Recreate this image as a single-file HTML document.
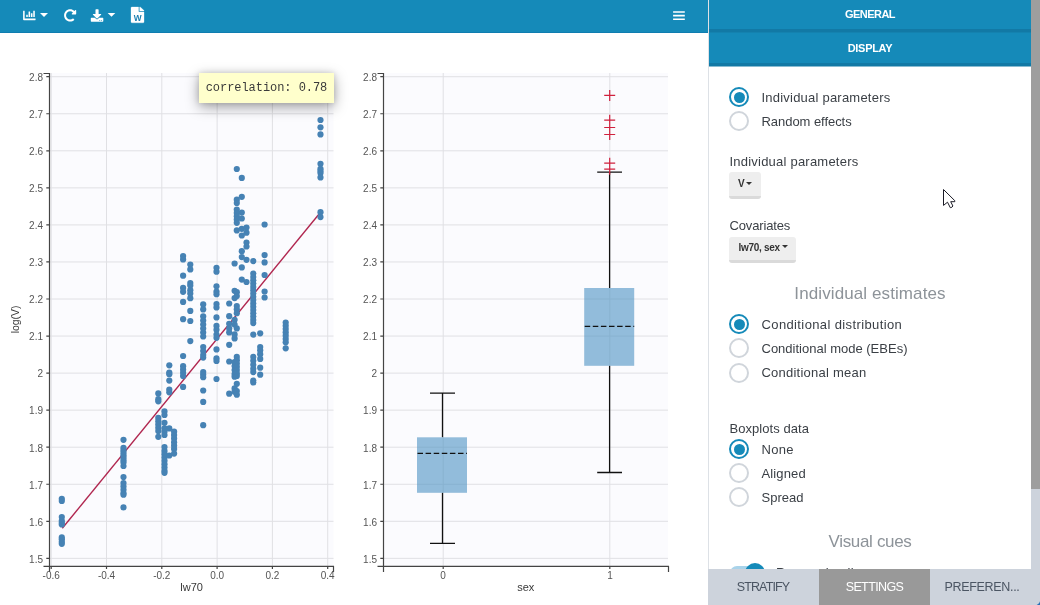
<!DOCTYPE html>
<html lang="en">
<head>
<meta charset="utf-8">
<title>Individual parameters vs covariates</title>
<style>
html,body{margin:0;padding:0;}
body{width:1040px;height:605px;overflow:hidden;background:#fff;position:relative;font-family:"Liberation Sans",sans-serif;color:#3a3f45;}
.abs{position:absolute;}
#hdr{left:0;top:0;width:708px;height:32px;background:#158ab9;border-bottom:1px solid #0f7db0;}
.plots{position:absolute;left:0;top:0;}
#tip{left:199px;top:73px;width:135px;height:30px;background:#ffffcc;box-shadow:0 4px 14px rgba(0,0,0,.36),0 0 6px rgba(0,0,0,.14);font-family:"Liberation Mono",monospace;font-size:12px;line-height:30px;color:#3a3a3a;text-align:center;white-space:nowrap;letter-spacing:-0.05px;}
#panel{left:708px;top:0;width:323px;height:569px;background:#fff;border-left:1px solid #dde1e6;box-sizing:border-box;overflow:hidden;}
.bar{left:0;width:322px;height:34px;color:#fff;font-weight:700;font-size:11px;text-align:center;line-height:29px;}
#b1{top:0;background:linear-gradient(#158ab9 0,#158ab9 29px,#1279a5 29px,#1279a5 32px,#1482af 32px,#1482af 33px,transparent 33px);}
#b2{top:33px;background:linear-gradient(#158ab9 0,#158ab9 30px,#1279a5 30px,#1279a5 33px,#88bcd2 33px,#88bcd2 34px);}
.t{white-space:nowrap;font-size:13px;line-height:16px;height:16px;color:#3a3f45;}
.h{white-space:nowrap;font-size:17px;line-height:22px;height:22px;color:#8d9399;width:322px;left:0;text-align:center;}
.r{left:20px;width:20px;height:20px;border-radius:50%;box-sizing:border-box;border:2px solid #d0d5db;background:#fff;}
.r.on{border:2px solid #158ab9;}
.r.on:after{content:"";position:absolute;left:2.5px;top:2.5px;width:11px;height:11px;border-radius:50%;background:#158ab9;}
.btn{left:20px;height:26px;box-sizing:border-box;background:#eeeeee;border-bottom:3px solid #dadada;border-radius:3px;font-weight:700;font-size:10px;color:#333;line-height:24px;white-space:nowrap;}
.caret{display:inline-block;width:0;height:0;border-left:3px solid transparent;border-right:3px solid transparent;border-top:3.5px solid #333;vertical-align:2.5px;margin-left:2px;}
#sb{left:1031px;top:0;width:9px;height:605px;background:#cdd3dc;}
#sbt{left:1031px;top:0;width:9px;height:489px;background:#9e9e9e;}
#tabs{left:708px;top:569px;width:332px;height:36px;background:#cdd3dc;}
.tab{top:0;height:36px;line-height:37px;text-align:center;font-size:12.5px;color:#4b5563;white-space:nowrap;}
</style>
</head>
<body>
<div id="hdr" class="abs"></div>
<svg class="abs" style="left:0;top:0" width="708" height="33" viewBox="0 0 708 33">
<g fill="#fff">
<path transform="translate(23.1 9.25) scale(0.0244)" d="M332.800 320h38.400c6.400 0 12.800-6.400 12.800-12.800V172.800c0-6.400-6.400-12.800-12.800-12.800h-38.400c-6.400 0-12.800 6.400-12.800 12.800v134.400c0 6.400 6.400 12.800 12.800 12.800zm96 0h38.400c6.400 0 12.800-6.400 12.800-12.800V76.800c0-6.400-6.400-12.800-12.800-12.800h-38.400c-6.400 0-12.800 6.400-12.800 12.800v230.400c0 6.400 6.400 12.800 12.800 12.800zm-288 0h38.400c6.400 0 12.800-6.400 12.800-12.800v-70.400c0-6.400-6.400-12.800-12.800-12.800h-38.400c-6.400 0-12.800 6.400-12.800 12.800v70.400c0 6.400 6.400 12.800 12.800 12.800zm96 0h38.400c6.400 0 12.800-6.400 12.800-12.800V108.800c0-6.400-6.400-12.800-12.800-12.800h-38.400c-6.400 0-12.800 6.400-12.800 12.800v198.400c0 6.400 6.400 12.800 12.800 12.800zM496 384H64V80c0-8.840-7.160-16-16-16H16C7.160 64 0 71.160 0 80v336c0 17.670 14.330 32 32 32h464c8.840 0 16-7.160 16-16v-32c0-8.840-7.160-16-16-16z"/>
<path d="M40 13H48L44 17Z"/>
<path transform="translate(63.9 9.15) scale(0.0244)" d="M256.455 8c66.269.119 126.437 26.233 170.859 68.685l35.715-35.715C478.149 25.851 504 36.559 504 57.941V192c0 13.255-10.745 24-24 24H345.941c-21.382 0-32.090-25.851-16.971-40.971l41.750-41.750c-30.864-28.899-70.801-44.907-113.230-45.273-92.398-.798-170.283 73.977-169.484 169.442C88.764 348.009 162.184 424 256 424c41.127 0 79.997-14.678 110.629-41.556 4.743-4.161 11.906-3.908 16.368.553l39.662 39.662c4.872 4.872 4.631 12.815-.482 17.433C378.202 479.813 319.926 504 256 504 119.034 504 8.001 392.967 8 256.002 7.999 119.193 119.646 7.755 256.455 8z"/>
<path transform="translate(90.8 9.2) scale(0.0244)" d="M216 0h80c13.300 0 24 10.700 24 24v168h87.700c17.800 0 26.700 21.500 14.100 34.100L269.700 378.300c-7.500 7.500-19.800 7.500-27.300 0L90.100 226.100c-12.600-12.600-3.700-34.100 14.100-34.100H192V24c0-13.300 10.700-24 24-24zm296 376v112c0 13.300-10.700 24-24 24H24c-13.300 0-24-10.700-24-24V376c0-13.300 10.700-24 24-24h146.700l49 49c20.100 20.100 52.500 20.100 72.600 0l49-49H488c13.300 0 24 10.700 24 24zm-124 88c0-11-9-20-20-20s-20 9-20 20 9 20 20 20 20-9 20-20zm64 0c0-11-9-20-20-20s-20 9-20 20 9 20 20 20 20-9 20-20z"/>
<path d="M107.7 13H115.3L111.5 16.8Z"/>
<path transform="translate(131 7) scale(0.0339 0.0309)" stroke="#fff" stroke-width="9" d="M224 136V0H24C10.700 0 0 10.700 0 24v464c0 13.300 10.700 24 24 24h336c13.300 0 24-10.700 24-24V160H248c-13.200 0-24-10.800-24-24zM384 121.900v6.100H256V0h6.100c6.400 0 12.500 2.500 17 7l97.900 98c4.500 4.500 7 10.600 7 16.900z"/>
<path d="M673.1 11.2H684.8V12.8H673.1ZM673.1 14.8H684.8V16.4H673.1ZM673.1 18.4H684.8V20H673.1Z"/>
</g>
<text x="137.6" y="20.7" font-family="'Liberation Sans', sans-serif" font-size="8.3" font-weight="700" fill="#1b7fb0" text-anchor="middle">W</text>
</svg>

<svg class="plots" width="708" height="605" viewBox="0 0 708 605">
<rect x="50" y="73" width="283.5" height="493" fill="#fbfbfe"/>
<rect x="384" y="73" width="284" height="493" fill="#fbfbfe"/>
<path d="M50 76.7H333.5M384 76.7H668M50 113.75H333.5M384 113.75H668M50 150.8H333.5M384 150.8H668M50 187.85H333.5M384 187.85H668M50 224.9H333.5M384 224.9H668M50 261.95H333.5M384 261.95H668M50 299.0H333.5M384 299.0H668M50 336.05H333.5M384 336.05H668M50 373.1H333.5M384 373.1H668M50 410.15H333.5M384 410.15H668M50 447.2H333.5M384 447.2H668M50 484.25H333.5M384 484.25H668M50 521.3H333.5M384 521.3H668M50 558.35H333.5M384 558.35H668M51.2 73V566M106.5 73V566M161.8 73V566M217.1 73V566M272.4 73V566M327.7 73V566M443.2 73V566M609.8 73V566" stroke="#e0e0e4" stroke-width="1" fill="none"/>
<path d="M62.3 528.3L320.5 212.2" stroke="#b0264f" stroke-width="1.4" fill="none"/>
<g fill="#4682b4">
<circle cx="61.8" cy="498.8" r="3.1"/>
<circle cx="61.8" cy="501" r="3.1"/>
<circle cx="61.8" cy="517" r="3.1"/>
<circle cx="61.8" cy="520.8" r="3.1"/>
<circle cx="61.8" cy="522.8" r="3.1"/>
<circle cx="61.8" cy="524.5" r="3.1"/>
<circle cx="61.8" cy="537.4" r="3.1"/>
<circle cx="61.8" cy="539.3" r="3.1"/>
<circle cx="61.8" cy="541.8" r="3.1"/>
<circle cx="61.8" cy="543.8" r="3.1"/>
<circle cx="123.5" cy="439.8" r="3.1"/>
<circle cx="123.5" cy="447.8" r="3.1"/>
<circle cx="123.5" cy="450.2" r="3.1"/>
<circle cx="123.5" cy="452.7" r="3.1"/>
<circle cx="123.5" cy="455.2" r="3.1"/>
<circle cx="123.5" cy="457.7" r="3.1"/>
<circle cx="123.5" cy="460.2" r="3.1"/>
<circle cx="123.5" cy="462.6" r="3.1"/>
<circle cx="123.5" cy="466" r="3.1"/>
<circle cx="123.5" cy="477" r="3.1"/>
<circle cx="123.5" cy="483.1" r="3.1"/>
<circle cx="123.5" cy="486.4" r="3.1"/>
<circle cx="123.5" cy="489.8" r="3.1"/>
<circle cx="123.5" cy="493" r="3.1"/>
<circle cx="123.5" cy="494.7" r="3.1"/>
<circle cx="123.5" cy="507.4" r="3.1"/>
<circle cx="158.3" cy="393.4" r="3.1"/>
<circle cx="158.3" cy="399.2" r="3.1"/>
<circle cx="158.3" cy="401.3" r="3.1"/>
<circle cx="158.3" cy="417.9" r="3.1"/>
<circle cx="158.3" cy="421.2" r="3.1"/>
<circle cx="158.3" cy="424.5" r="3.1"/>
<circle cx="158.3" cy="427.8" r="3.1"/>
<circle cx="158.3" cy="431.1" r="3.1"/>
<circle cx="158.3" cy="436.8" r="3.1"/>
<circle cx="164.5" cy="411.4" r="3.1"/>
<circle cx="164.5" cy="415" r="3.1"/>
<circle cx="164.5" cy="422.8" r="3.1"/>
<circle cx="164.5" cy="428.4" r="3.1"/>
<circle cx="164.5" cy="431.7" r="3.1"/>
<circle cx="164.5" cy="435" r="3.1"/>
<circle cx="164.5" cy="447" r="3.1"/>
<circle cx="164.5" cy="450.9" r="3.1"/>
<circle cx="164.5" cy="454.2" r="3.1"/>
<circle cx="164.5" cy="457.5" r="3.1"/>
<circle cx="164.5" cy="460.8" r="3.1"/>
<circle cx="164.5" cy="464.2" r="3.1"/>
<circle cx="164.5" cy="467.5" r="3.1"/>
<circle cx="164.5" cy="470.8" r="3.1"/>
<circle cx="164.5" cy="472.8" r="3.1"/>
<circle cx="169.3" cy="365.3" r="3.1"/>
<circle cx="169.3" cy="372.5" r="3.1"/>
<circle cx="169.3" cy="374.2" r="3.1"/>
<circle cx="169.3" cy="380.6" r="3.1"/>
<circle cx="169.3" cy="389.6" r="3.1"/>
<circle cx="169.3" cy="392.3" r="3.1"/>
<circle cx="169.3" cy="428.4" r="3.1"/>
<circle cx="169.3" cy="455.5" r="3.1"/>
<circle cx="174.1" cy="431.7" r="3.1"/>
<circle cx="174.1" cy="435" r="3.1"/>
<circle cx="174.1" cy="438.4" r="3.1"/>
<circle cx="174.1" cy="442.3" r="3.1"/>
<circle cx="174.1" cy="445.6" r="3.1"/>
<circle cx="174.1" cy="448.9" r="3.1"/>
<circle cx="174.1" cy="453.6" r="3.1"/>
<circle cx="183.1" cy="256.1" r="3.1"/>
<circle cx="183.1" cy="259.4" r="3.1"/>
<circle cx="183.1" cy="275.7" r="3.1"/>
<circle cx="183.1" cy="287.9" r="3.1"/>
<circle cx="183.1" cy="291.8" r="3.1"/>
<circle cx="183.1" cy="301.9" r="3.1"/>
<circle cx="183.1" cy="319.2" r="3.1"/>
<circle cx="183.1" cy="356" r="3.1"/>
<circle cx="183.1" cy="366.2" r="3.1"/>
<circle cx="183.1" cy="369.5" r="3.1"/>
<circle cx="183.1" cy="372.8" r="3.1"/>
<circle cx="183.1" cy="376.1" r="3.1"/>
<circle cx="183.1" cy="386.9" r="3.1"/>
<circle cx="190.3" cy="264.5" r="3.1"/>
<circle cx="190.3" cy="269.4" r="3.1"/>
<circle cx="190.3" cy="283" r="3.1"/>
<circle cx="190.3" cy="285.6" r="3.1"/>
<circle cx="190.3" cy="290.2" r="3.1"/>
<circle cx="190.3" cy="293.6" r="3.1"/>
<circle cx="190.3" cy="298.2" r="3.1"/>
<circle cx="190.3" cy="310.9" r="3.1"/>
<circle cx="190.3" cy="321" r="3.1"/>
<circle cx="190.3" cy="341.1" r="3.1"/>
<circle cx="203.2" cy="304.4" r="3.1"/>
<circle cx="203.2" cy="309.4" r="3.1"/>
<circle cx="203.2" cy="316.4" r="3.1"/>
<circle cx="203.2" cy="320.6" r="3.1"/>
<circle cx="203.2" cy="324.5" r="3.1"/>
<circle cx="203.2" cy="328.5" r="3.1"/>
<circle cx="203.2" cy="332.5" r="3.1"/>
<circle cx="203.2" cy="336.5" r="3.1"/>
<circle cx="203.2" cy="347" r="3.1"/>
<circle cx="203.2" cy="351" r="3.1"/>
<circle cx="203.2" cy="355" r="3.1"/>
<circle cx="203.2" cy="357.6" r="3.1"/>
<circle cx="203.2" cy="372" r="3.1"/>
<circle cx="203.2" cy="374.6" r="3.1"/>
<circle cx="203.2" cy="377.2" r="3.1"/>
<circle cx="203.2" cy="390.5" r="3.1"/>
<circle cx="203.2" cy="401.9" r="3.1"/>
<circle cx="203.2" cy="425.2" r="3.1"/>
<circle cx="216.5" cy="267.8" r="3.1"/>
<circle cx="216.5" cy="271.7" r="3.1"/>
<circle cx="216.5" cy="286.3" r="3.1"/>
<circle cx="216.5" cy="291.6" r="3.1"/>
<circle cx="216.5" cy="294.2" r="3.1"/>
<circle cx="216.5" cy="304.1" r="3.1"/>
<circle cx="216.5" cy="307.4" r="3.1"/>
<circle cx="216.5" cy="317.4" r="3.1"/>
<circle cx="216.5" cy="325.9" r="3.1"/>
<circle cx="216.5" cy="329.8" r="3.1"/>
<circle cx="216.5" cy="334.5" r="3.1"/>
<circle cx="216.5" cy="337.8" r="3.1"/>
<circle cx="216.5" cy="349.4" r="3.1"/>
<circle cx="216.5" cy="358.3" r="3.1"/>
<circle cx="216.5" cy="360.9" r="3.1"/>
<circle cx="216.5" cy="379" r="3.1"/>
<circle cx="229.2" cy="303.5" r="3.1"/>
<circle cx="229.2" cy="316.2" r="3.1"/>
<circle cx="229.2" cy="323.8" r="3.1"/>
<circle cx="229.2" cy="328.4" r="3.1"/>
<circle cx="229.2" cy="332.4" r="3.1"/>
<circle cx="229.2" cy="344.8" r="3.1"/>
<circle cx="229.2" cy="361.5" r="3.1"/>
<circle cx="229.2" cy="393.7" r="3.1"/>
<circle cx="234.6" cy="263.5" r="3.1"/>
<circle cx="234.6" cy="290.8" r="3.1"/>
<circle cx="234.6" cy="298.1" r="3.1"/>
<circle cx="234.6" cy="319.8" r="3.1"/>
<circle cx="234.6" cy="324.5" r="3.1"/>
<circle cx="234.6" cy="334.4" r="3.1"/>
<circle cx="234.6" cy="338.4" r="3.1"/>
<circle cx="234.6" cy="362.2" r="3.1"/>
<circle cx="234.6" cy="366.1" r="3.1"/>
<circle cx="234.6" cy="370.1" r="3.1"/>
<circle cx="234.6" cy="374.1" r="3.1"/>
<circle cx="234.6" cy="376.7" r="3.1"/>
<circle cx="234.6" cy="388.4" r="3.1"/>
<circle cx="234.6" cy="391.7" r="3.1"/>
<circle cx="236.8" cy="169" r="3.1"/>
<circle cx="236.8" cy="199.7" r="3.1"/>
<circle cx="236.8" cy="203" r="3.1"/>
<circle cx="236.8" cy="209.6" r="3.1"/>
<circle cx="236.8" cy="212.9" r="3.1"/>
<circle cx="236.8" cy="216.2" r="3.1"/>
<circle cx="236.8" cy="219.5" r="3.1"/>
<circle cx="236.8" cy="222.8" r="3.1"/>
<circle cx="236.8" cy="230.4" r="3.1"/>
<circle cx="236.8" cy="292.2" r="3.1"/>
<circle cx="236.8" cy="296.1" r="3.1"/>
<circle cx="236.8" cy="306" r="3.1"/>
<circle cx="236.8" cy="309.3" r="3.1"/>
<circle cx="236.8" cy="313.2" r="3.1"/>
<circle cx="236.8" cy="328.4" r="3.1"/>
<circle cx="236.8" cy="356.9" r="3.1"/>
<circle cx="236.8" cy="360.2" r="3.1"/>
<circle cx="236.8" cy="363.5" r="3.1"/>
<circle cx="236.8" cy="366.8" r="3.1"/>
<circle cx="236.8" cy="370.1" r="3.1"/>
<circle cx="236.8" cy="373.4" r="3.1"/>
<circle cx="236.8" cy="376" r="3.1"/>
<circle cx="236.8" cy="383.8" r="3.1"/>
<circle cx="236.8" cy="391.1" r="3.1"/>
<circle cx="236.8" cy="394.7" r="3.1"/>
<circle cx="241.8" cy="177.9" r="3.1"/>
<circle cx="241.8" cy="196.8" r="3.1"/>
<circle cx="241.8" cy="212.6" r="3.1"/>
<circle cx="241.8" cy="218.5" r="3.1"/>
<circle cx="241.8" cy="228.8" r="3.1"/>
<circle cx="241.8" cy="235.5" r="3.1"/>
<circle cx="241.8" cy="251.2" r="3.1"/>
<circle cx="241.8" cy="257.1" r="3.1"/>
<circle cx="241.8" cy="267.4" r="3.1"/>
<circle cx="241.8" cy="279.6" r="3.1"/>
<circle cx="246.5" cy="227.5" r="3.1"/>
<circle cx="246.5" cy="232.7" r="3.1"/>
<circle cx="246.5" cy="242.6" r="3.1"/>
<circle cx="246.5" cy="246.5" r="3.1"/>
<circle cx="246.5" cy="259.8" r="3.1"/>
<circle cx="246.5" cy="282" r="3.1"/>
<circle cx="253.3" cy="261.1" r="3.1"/>
<circle cx="253.3" cy="273.6" r="3.1"/>
<circle cx="253.3" cy="277" r="3.1"/>
<circle cx="253.3" cy="280.3" r="3.1"/>
<circle cx="253.3" cy="283.6" r="3.1"/>
<circle cx="253.3" cy="286.9" r="3.1"/>
<circle cx="253.3" cy="290.2" r="3.1"/>
<circle cx="253.3" cy="293.5" r="3.1"/>
<circle cx="253.3" cy="296.8" r="3.1"/>
<circle cx="253.3" cy="300.1" r="3.1"/>
<circle cx="253.3" cy="303.4" r="3.1"/>
<circle cx="253.3" cy="306.7" r="3.1"/>
<circle cx="253.3" cy="310" r="3.1"/>
<circle cx="253.3" cy="313.3" r="3.1"/>
<circle cx="253.3" cy="316.6" r="3.1"/>
<circle cx="253.3" cy="319.9" r="3.1"/>
<circle cx="253.3" cy="323.1" r="3.1"/>
<circle cx="253.3" cy="334.6" r="3.1"/>
<circle cx="253.3" cy="356.9" r="3.1"/>
<circle cx="253.3" cy="360.8" r="3.1"/>
<circle cx="253.3" cy="364.8" r="3.1"/>
<circle cx="253.3" cy="368.8" r="3.1"/>
<circle cx="253.3" cy="372.1" r="3.1"/>
<circle cx="253.3" cy="380.5" r="3.1"/>
<circle cx="253.3" cy="382.5" r="3.1"/>
<circle cx="260.2" cy="333.3" r="3.1"/>
<circle cx="260.2" cy="347" r="3.1"/>
<circle cx="260.2" cy="350.3" r="3.1"/>
<circle cx="260.2" cy="354.2" r="3.1"/>
<circle cx="260.2" cy="358.9" r="3.1"/>
<circle cx="260.2" cy="367.7" r="3.1"/>
<circle cx="260.2" cy="374.7" r="3.1"/>
<circle cx="264.6" cy="224.5" r="3.1"/>
<circle cx="264.6" cy="255.1" r="3.1"/>
<circle cx="264.6" cy="262.4" r="3.1"/>
<circle cx="264.6" cy="275" r="3.1"/>
<circle cx="264.6" cy="291.5" r="3.1"/>
<circle cx="264.6" cy="297.5" r="3.1"/>
<circle cx="285.7" cy="322.5" r="3.1"/>
<circle cx="285.7" cy="325.8" r="3.1"/>
<circle cx="285.7" cy="329.1" r="3.1"/>
<circle cx="285.7" cy="332.4" r="3.1"/>
<circle cx="285.7" cy="335.7" r="3.1"/>
<circle cx="285.7" cy="339" r="3.1"/>
<circle cx="285.7" cy="342.3" r="3.1"/>
<circle cx="285.7" cy="348.3" r="3.1"/>
<circle cx="320.5" cy="120" r="3.1"/>
<circle cx="320.5" cy="127.3" r="3.1"/>
<circle cx="320.5" cy="134.4" r="3.1"/>
<circle cx="320.5" cy="163.8" r="3.1"/>
<circle cx="320.5" cy="168.8" r="3.1"/>
<circle cx="320.5" cy="170.9" r="3.1"/>
<circle cx="320.5" cy="173" r="3.1"/>
<circle cx="320.5" cy="177.4" r="3.1"/>
<circle cx="320.5" cy="212.2" r="3.1"/>
<circle cx="320.5" cy="217.1" r="3.1"/>
</g>
<g stroke="#111" stroke-width="1.3" fill="none">
<path d="M442.5 393.2V437.3M442.5 492.8V543.4M430 393.2H455M430 543.4H455"/>
<path d="M609.6 172.2V288M609.6 365.8V472.5M597.2 172.2H622M597.2 472.5H622"/>
</g>
<rect x="417" y="437.3" width="50" height="55.5" fill="#4c92c3" fill-opacity="0.6"/>
<rect x="584.2" y="288" width="50" height="77.8" fill="#4c92c3" fill-opacity="0.6"/>
<path d="M417.5 453.3H467M584.7 326.4H634.2" stroke="#111" stroke-width="1.3" stroke-dasharray="5.5 2.6" fill="none"/>
<path d="M604.2 95.4H615.2M609.7 89.9V100.9M604.2 120.2H615.2M609.7 114.7V125.7M604.2 127.5H615.2M609.7 122.0V133.0M604.2 134.5H615.2M609.7 129.0V140.0M604.2 163.2H615.2M609.7 157.7V168.7M604.2 169.2H615.2M609.7 163.7V174.7" stroke="#d0213d" stroke-width="1.2" fill="none"/>
<path d="M43.5 73.5H49.5V572M43.5 566.4H333.5V572M377.5 73.5H383.5V572M377.5 566.4H668.5V572M46.3 76.7H49.5M380.3 76.7H383.5M46.3 113.75H49.5M380.3 113.75H383.5M46.3 150.8H49.5M380.3 150.8H383.5M46.3 187.85H49.5M380.3 187.85H383.5M46.3 224.9H49.5M380.3 224.9H383.5M46.3 261.95H49.5M380.3 261.95H383.5M46.3 299.0H49.5M380.3 299.0H383.5M46.3 336.05H49.5M380.3 336.05H383.5M46.3 373.1H49.5M380.3 373.1H383.5M46.3 410.15H49.5M380.3 410.15H383.5M46.3 447.2H49.5M380.3 447.2H383.5M46.3 484.25H49.5M380.3 484.25H383.5M46.3 521.3H49.5M380.3 521.3H383.5M46.3 558.35H49.5M380.3 558.35H383.5M51.2 566V569M106.5 566V569M161.8 566V569M217.1 566V569M272.4 566V569M327.7 566V569M443.2 566V569M609.8 566V569" stroke="#444" stroke-width="1.2" fill="none"/>
<g font-family="'Liberation Sans', sans-serif" font-size="10" fill="#555">
<g text-anchor="end">
<text x="43" y="81.0">2.8</text><text x="377" y="81.0">2.8</text>
<text x="43" y="118.05">2.7</text><text x="377" y="118.05">2.7</text>
<text x="43" y="155.1">2.6</text><text x="377" y="155.1">2.6</text>
<text x="43" y="192.15">2.5</text><text x="377" y="192.15">2.5</text>
<text x="43" y="229.2">2.4</text><text x="377" y="229.2">2.4</text>
<text x="43" y="266.25">2.3</text><text x="377" y="266.25">2.3</text>
<text x="43" y="303.3">2.2</text><text x="377" y="303.3">2.2</text>
<text x="43" y="340.35">2.1</text><text x="377" y="340.35">2.1</text>
<text x="43" y="377.4">2</text><text x="377" y="377.4">2</text>
<text x="43" y="414.45">1.9</text><text x="377" y="414.45">1.9</text>
<text x="43" y="451.5">1.8</text><text x="377" y="451.5">1.8</text>
<text x="43" y="488.55">1.7</text><text x="377" y="488.55">1.7</text>
<text x="43" y="525.6">1.6</text><text x="377" y="525.6">1.6</text>
<text x="43" y="562.65">1.5</text><text x="377" y="562.65">1.5</text>
</g><g text-anchor="middle">
<text x="51.2" y="579.3">-0.6</text>
<text x="106.5" y="579.3">-0.4</text>
<text x="161.8" y="579.3">-0.2</text>
<text x="217.1" y="579.3">0.0</text>
<text x="272.4" y="579.3">0.2</text>
<text x="327.6" y="579.3">0.4</text>
<text x="443" y="579.3">0</text><text x="610" y="579.3">1</text>
</g></g>
<g font-family="'Liberation Sans', sans-serif" font-size="11" fill="#383838" text-anchor="middle">
<text x="191.6" y="591">lw70</text><text x="525.7" y="591">sex</text>
<text transform="translate(19.4 319.4) rotate(-90)" font-size="10.4">log(V)</text>
</g>
</svg>
<div id="tip" class="abs">correlation: 0.78</div>

<div id="panel" class="abs">
  <div id="b1" class="abs bar"><span style="letter-spacing:-0.55px">GENERAL</span></div>
  <div id="b2" class="abs bar"><span style="letter-spacing:-0.3px;position:relative;top:1px">DISPLAY</span></div>

  <div class="abs r on" style="top:87px"></div>
  <div class="abs t" style="left:52.5px;top:90px;letter-spacing:.22px">Individual parameters</div>
  <div class="abs r" style="top:111px"></div>
  <div class="abs t" style="left:52.5px;top:114px;letter-spacing:-.05px">Random effects</div>

  <div class="abs t" style="left:20.5px;top:154px;letter-spacing:.22px">Individual parameters</div>
  <div class="abs btn" style="top:172px;width:32px;height:26.5px;padding-left:9px">V<span class="caret" style="margin-left:1.2px"></span></div>

  <div class="abs t" style="left:20.5px;top:218px;letter-spacing:-.15px">Covariates</div>
  <div class="abs btn" style="top:236.5px;width:67px;padding-left:9.5px;letter-spacing:-.3px;line-height:22px">lw70, sex<span class="caret"></span></div>

  <div class="abs h" style="top:283px;letter-spacing:.1px">Individual estimates</div>
  <div class="abs r on" style="top:314px"></div>
  <div class="abs t" style="left:52.5px;top:317px;letter-spacing:.38px">Conditional distribution</div>
  <div class="abs r" style="top:338px"></div>
  <div class="abs t" style="left:52.5px;top:341px;letter-spacing:0">Conditional mode (EBEs)</div>
  <div class="abs r" style="top:362.5px"></div>
  <div class="abs t" style="left:52.5px;top:365px;letter-spacing:.23px">Conditional mean</div>

  <div class="abs t" style="left:20.5px;top:420.5px;letter-spacing:.05px">Boxplots data</div>
  <div class="abs r on" style="top:439px"></div>
  <div class="abs t" style="left:52.5px;top:442px;letter-spacing:.26px">None</div>
  <div class="abs r" style="top:463px"></div>
  <div class="abs t" style="left:52.5px;top:466px;letter-spacing:.13px">Aligned</div>
  <div class="abs r" style="top:487px"></div>
  <div class="abs t" style="left:52.5px;top:490px;letter-spacing:0">Spread</div>

  <div class="abs h" style="top:531px;letter-spacing:-.33px">Visual cues</div>
  <div class="abs" style="left:20.5px;top:566px;width:34px;height:14px;border-radius:7px;background:#a9d3ea"></div>
  <div class="abs" style="left:35.5px;top:562.5px;width:20px;height:20px;border-radius:50%;background:#158ab9"></div>
  <div class="abs t" style="left:67px;top:564.5px;letter-spacing:.2px">Regression line</div>
</div>

<div id="sb" class="abs"></div>
<div id="sbt" class="abs"></div>
<div id="tabs" class="abs">
  <div class="abs tab" style="left:0px;width:110px;letter-spacing:-.85px">STRATIFY</div>
  <div class="abs tab" style="left:111px;width:111px;background:#999999;color:#fff;letter-spacing:-.6px">SETTINGS</div>
  <div class="abs tab" style="left:223px;width:102px;letter-spacing:-.32px">PREFEREN...</div>
</div>
<svg class="abs" style="left:1034px;top:599px" width="6" height="6" viewBox="0 0 6 6"><path d="M6 2.2C5.4 4 4.400 5.200 2.600 6H6Z" fill="#2a70b6"/></svg>
<svg class="abs" style="left:940px;top:185px" width="20" height="26" viewBox="940 185 20 26"><path d="M943.5 189.500V205.400L947.500 202.200L950.300 207.700Q952.200 207.600 952.900 206L950.700 201.700H954.800V200.700Z" fill="#fff" stroke="#1b1b26" stroke-width="1" stroke-linejoin="miter"/></svg>
</body>
</html>
